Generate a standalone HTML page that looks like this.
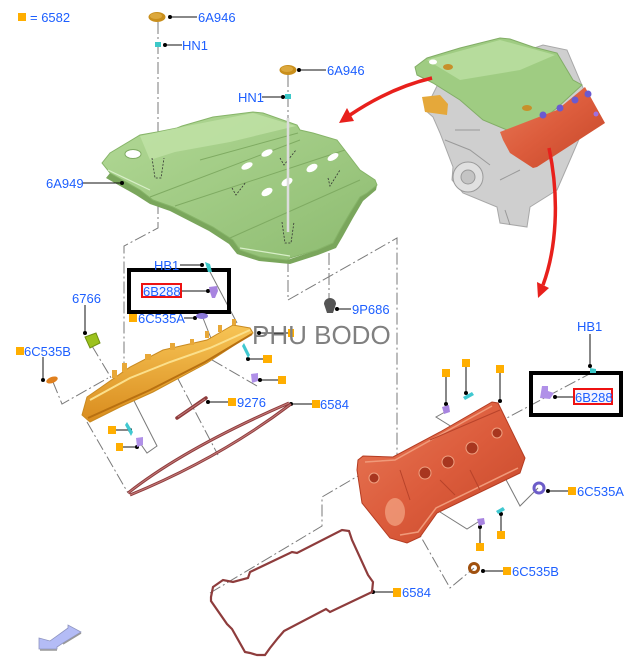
<!DOCTYPE html>
<html><head><meta charset="utf-8"><style>
html,body{margin:0;padding:0;background:#fff;}
svg{display:block}
.l{font-family:"Liberation Sans",Arial,sans-serif;font-size:13px;fill:#1d5fff}
.dd{stroke:#7a7a7a;stroke-width:1;fill:none;stroke-dasharray:12 3 2 3}
.sl{stroke:#7a7a7a;stroke-width:1;fill:none}
.ld{stroke:#111;stroke-width:1;fill:none}
.sq{fill:#ffae00}
</style></head><body>
<svg width="641" height="667" viewBox="0 0 641 667" xmlns="http://www.w3.org/2000/svg">
<defs>
<linearGradient id="gg" x1="0" y1="0" x2="1" y2="1">
<stop offset="0" stop-color="#b2d996"/><stop offset="1" stop-color="#8dbb70"/></linearGradient>
<linearGradient id="og" x1="0" y1="0" x2="0" y2="1">
<stop offset="0" stop-color="#f7c455"/><stop offset="1" stop-color="#d98c1e"/></linearGradient>
<linearGradient id="rg" x1="0" y1="0" x2="1" y2="1">
<stop offset="0" stop-color="#e87a58"/><stop offset="0.5" stop-color="#dc5c3c"/><stop offset="1" stop-color="#c44628"/></linearGradient>
</defs>

<!-- legend -->
<rect class="sq" x="18" y="13" width="8" height="8"/>
<text class="l" x="30" y="22">= 6582</text>

<!-- dash-dot construction lines -->
<path class="dd" d="M158,22 L158,228 L124,246 L124,366"/>
<path class="dd" d="M288,75 L288,118"/>
<line x1="288" y1="118" x2="288" y2="232" stroke="#d8d8d8" stroke-width="2.5"/>
<path class="dd" d="M288,240 L288,300 L397,238 L397,456"/>
<path class="dd" d="M329,173 L329,303"/>
<path class="dd" d="M87,422 L128,493"/>
<path class="dd" d="M177,377 L218,455"/>
<path class="dd" d="M53,382 L62,404 L108,378"/>
<path class="dd" d="M92,346 L113,381"/>
<path class="sl" d="M140,443 L147,453 L157,446 L127,387 L137,381"/>
<path class="dd" d="M257,386 L200,353 L208,347"/>
<path class="sl" d="M209,270 L237,323"/>
<path class="sl" d="M203,318 L214,346"/>
<path class="dd" d="M210,593 L322,526 L322,497 L358,476"/>
<path class="dd" d="M383,470 L450,588 L474,568"/>
<path class="dd" d="M593,372 L505,419"/>
<path class="sl" d="M445,412 L436,417 L452,427 L442,433"/>
<path class="sl" d="M478,522 L467,529 L440,512"/>
<path class="sl" d="M538,488 L520,506 L485,440 L474,447"/>

<!-- green engine cover 6A949 -->
<path d="M110,173 L140,190 L153,200 L173,207 L213,227 L233,240 L240,250 L260,257 L287,260 L317,250 L333,243 L340,230 L350,213 L360,197 L377,185 L376,190 L363,201 L353,218 L343,236 L336,248 L318,255 L290,264 L259,261 L237,254 L229,244 L209,231 L170,211 L150,204 L136,195 L106,178 Z" fill="#7aa65c"/>
<path d="M102,163 L110,153 L140,135 L157,132 L177,128 L182,126 L213,117 L253,112 L263,113 L297,125 L300,130 L313,133 L337,140 L347,153 L360,170 L375,180 L377,185 L367,193 L360,197 L350,213 L340,230 L333,243 L317,250 L290,258 L287,260 L260,257 L240,250 L233,240 L213,227 L173,207 L153,200 L140,190 L110,173 Z" fill="url(#gg)" stroke="#86b468" stroke-width="1"/>
<path d="M140,136 L182,127 L253,113 L296,126 L230,142 L175,152 L150,160 Z" fill="#c0e2a6" opacity="0.8"/>
<path d="M150,197 L300,140 M175,206 L345,150 M230,238 L360,180 M200,160 L298,133" stroke="#7fab62" stroke-width="1" fill="none"/>
<path d="M108,170 L150,190 M240,248 L290,256" stroke="#d8efc8" stroke-width="1.2" fill="none"/>
<ellipse cx="133" cy="154" rx="8" ry="4.5" fill="#fff" stroke="#7fab62"/>
<ellipse cx="247" cy="166" rx="6" ry="3" fill="#fff" transform="rotate(-25 247 166)"/>
<ellipse cx="267" cy="153" rx="6" ry="3" fill="#fff" transform="rotate(-25 267 153)"/>
<ellipse cx="267" cy="192" rx="6" ry="3.5" fill="#fff" transform="rotate(-30 267 192)"/>
<ellipse cx="287" cy="182" rx="6" ry="3.5" fill="#fff" transform="rotate(-30 287 182)"/>
<ellipse cx="312" cy="168" rx="6" ry="3.5" fill="#fff" transform="rotate(-30 312 168)"/>
<ellipse cx="333" cy="157" rx="6" ry="3" fill="#fff" transform="rotate(-30 333 157)"/>
<path d="M152,158 L155,178 L161,178 L164,158 M282,222 L285,243 L291,243 L294,222 M232,188 L236,195 L246,182 M280,158 L284,165 L296,150 M328,178 L330,186 L340,170" stroke="#333" stroke-width="0.8" stroke-dasharray="2 1.5" fill="none"/>
<line x1="288" y1="118" x2="288" y2="232" stroke="#dcdcdc" stroke-width="2.5"/>

<!-- top parts -->
<ellipse cx="157" cy="17" rx="8.5" ry="5" fill="#c98f1c"/>
<ellipse cx="156" cy="16" rx="6" ry="3" fill="#dca83c"/>
<ellipse cx="288" cy="70" rx="8.5" ry="5" fill="#c98f1c"/>
<ellipse cx="287" cy="69" rx="6" ry="3" fill="#dca83c"/>
<rect x="155" y="42" width="6" height="5" fill="#3cc8c8"/>
<rect x="285" y="94" width="6" height="5" fill="#3cc8c8"/>
<path class="ld" d="M170,17 H197 M165,45 H182 M299,70 H326 M262,97 H283 M82,183 H122"/>
<circle cx="170" cy="17" r="2"/><circle cx="165" cy="45" r="2"/><circle cx="299" cy="70" r="2"/><circle cx="283" cy="97" r="2"/><circle cx="122" cy="183" r="2"/>
<text class="l" x="198" y="22">6A946</text>
<text class="l" x="182" y="50">HN1</text>
<text class="l" x="327" y="75">6A946</text>
<text class="l" x="238" y="102">HN1</text>
<text class="l" x="46" y="188">6A949</text>

<!-- engine picture -->
<path d="M425,110 L433,117 L440,133 L453,167 L452,180 L463,193 L497,207 L500,223 L527,227 L530,207 L557,190 L567,167 L580,137 L587,97 L567,50 L543,45 L440,80 Z" fill="#cfcfcf" stroke="#a8a8a8"/>
<circle cx="468" cy="177" r="15" fill="#e0e0e0" stroke="#9a9a9a"/>
<circle cx="468" cy="177" r="7" fill="#c4c4c4" stroke="#9a9a9a"/>
<path d="M445,140 L470,150 L490,165 M500,180 L520,170 M505,210 L510,225 M455,130 L480,130" stroke="#9a9a9a" fill="none"/>
<path d="M422,97 L440,95 L448,104 L447,115 L425,112 Z" fill="#e5a83a"/>
<path d="M415,67 L427,58 L460,48 L500,38 L510,39 L533,47 L557,53 L573,80 L582,85 L557,108 L533,127 L507,130 L483,120 L460,100 L433,83 L417,75 Z" fill="#9fcc82" stroke="#82ad66"/>
<path d="M427,60 L500,40 L555,55 L520,70 L460,80 Z" fill="#b6dc9c"/>
<ellipse cx="448" cy="67" rx="5" ry="3" fill="#c7902a"/>
<ellipse cx="527" cy="108" rx="5" ry="3" fill="#c7902a"/>
<ellipse cx="433" cy="62" rx="4" ry="2.5" fill="#fff"/>
<path d="M500,132 L557,110 L585,87 L605,123 L537,167 L533,168 L510,153 L503,140 Z" fill="url(#rg)"/>
<circle cx="543" cy="115" r="3.5" fill="#6a5ad0"/><circle cx="560" cy="108" r="3.5" fill="#6a5ad0"/><circle cx="575" cy="100" r="3.5" fill="#6a5ad0"/><circle cx="588" cy="94" r="3.5" fill="#6a5ad0"/>
<circle cx="596" cy="114" r="2.5" fill="#a070e0"/>

<!-- red arrows -->
<path d="M432,78 Q390,88 350,115" stroke="#e8201c" stroke-width="3.5" fill="none"/>
<polygon points="339,123 354,121 347,108" fill="#e8201c"/>
<path d="M549,148 C560,200 556,250 543,285" stroke="#e8201c" stroke-width="3.5" fill="none"/>
<polygon points="538,298 549,288 537,282" fill="#e8201c"/>

<!-- left box -->
<rect x="129" y="270" width="100" height="42" fill="none" stroke="#000" stroke-width="4"/>
<path class="ld" d="M180,265 H202 M182,291 H208 M184,318 H195 M85,305 V333 M43,357 V380 M337,309 H351 M259,333 H288 M248,359 H263 M260,380 H278 M208,402 H228 M291,404 H312 M116,430 H130 M123,447 H137"/>
<circle cx="202" cy="265" r="2"/><circle cx="208" cy="291" r="2"/><circle cx="195" cy="318" r="2"/><circle cx="85" cy="333" r="2"/><circle cx="43" cy="380" r="2"/><circle cx="337" cy="309" r="2"/><circle cx="259" cy="333" r="2"/><circle cx="248" cy="359" r="2"/><circle cx="260" cy="380" r="2"/><circle cx="208" cy="402" r="2"/><circle cx="291" cy="404" r="2"/><circle cx="130" cy="430" r="2"/><circle cx="137" cy="447" r="2"/>
<path d="M205,262 L210,264 L212,272 L208,272 Z" fill="#3cc8c8"/>
<path d="M209,287 L217,286 L218,291 L215,298 L212,298 L210,292 Z" fill="#a884e0"/>
<ellipse cx="202" cy="316" rx="6" ry="3" fill="#8a78d8"/>
<rect x="142" y="284" width="39" height="13" fill="#f4f4ff" stroke="#ee1111" stroke-width="2"/>
<text class="l" x="143" y="296">6B288</text>
<text class="l" x="154" y="270">HB1</text>
<rect class="sq" x="129" y="314" width="8" height="8"/>
<text class="l" x="138" y="323">6C535A</text>
<text class="l" x="72" y="303">6766</text>
<rect class="sq" x="16" y="347" width="8" height="8"/>
<text class="l" x="24" y="356">6C535B</text>
<path d="M85,337 L96,333 L100,343 L90,348 Z" fill="#9cc21e" stroke="#6f9010"/>
<ellipse cx="52" cy="380" rx="6" ry="3" fill="#e0801e" transform="rotate(-20 52 380)"/>
<path d="M324,304 A6,6 0 0 1 336,304 L333,313 L327,313 Z" fill="#555"/>
<text class="l" x="352" y="314">9P686</text>

<!-- left orange cam cover -->
<path d="M82,415 L87,397 L100,388 L130,367 L163,350 L207,340 L233,325 L250,328 L253,333 L207,363 L153,392 L120,407 L90,422 Z" fill="url(#og)" stroke="#c98a20"/>
<path d="M90,400 L130,378 L170,362 L210,348 L250,330" stroke="#fbe08c" stroke-width="2" fill="none"/>
<path d="M88,418 L150,390 L205,362 L252,334" stroke="#b87010" stroke-width="2" fill="none"/>
<path d="M112,378 h5 v-8 h-5z M122,372 h5 v-9 h-5z M145,360 h6 v-6 h-6z M170,350 h5 v-7 h-5z M190,345 h4 v-6 h-4z M205,338 h4 v-7 h-4z M218,332 h4 v-7 h-4z M232,325 h4 v-6 h-4z" fill="#e8a838"/>
<path d="M244,343 L250,355 L248,358 L242,346 Z" fill="#40c8d0"/>
<path d="M251,374 L258,373 L258,381 L252,383 Z" fill="#b090e8"/>
<path d="M127,422 L133,432 L131,436 L125,425 Z" fill="#40c8d0"/>
<path d="M136,438 L143,437 L143,445 L137,447 Z" fill="#b090e8"/>
<rect class="sq" x="263" y="355" width="9" height="8"/>
<rect class="sq" x="278" y="376" width="8" height="8"/>
<rect class="sq" x="108" y="426" width="8" height="8"/>
<rect class="sq" x="116" y="443" width="7" height="8"/>

<!-- watermark -->
<rect class="sq" x="288" y="329" width="6" height="8"/>
<text x="252" y="344" font-family="Liberation Sans,Arial,sans-serif" font-size="26" fill="#808080">PHU BODO</text>

<!-- 9276 & 6584 gaskets left -->
<path d="M177,418 L206,398" stroke="#8e3c3c" stroke-width="3.5" stroke-linecap="round"/>
<path d="M178,417 L205,399" stroke="#c47a7a" stroke-width="1"/>
<rect class="sq" x="228" y="398" width="8" height="8"/>
<text class="l" x="237" y="407">9276</text>
<path d="M128,493 Q185,448 289,403 M130,495 Q220,458 291,404" stroke="#8e3c3c" stroke-width="3" fill="none"/>
<path d="M128,493 Q185,448 289,403 M130,495 Q220,458 291,404" stroke="#c47a7a" stroke-width="1" fill="none"/>
<rect class="sq" x="312" y="400" width="8" height="8"/>
<text class="l" x="320" y="409">6584</text>

<!-- right box -->
<rect x="531" y="373" width="90" height="42" fill="none" stroke="#000" stroke-width="4"/>
<path class="ld" d="M590,334 V366 M555,397 H573 M446,377 V404 M466,367 V393 M500,373 V401 M548,491 H568 M480,527 V543 M501,514 V531 M483,571 H503 M373,592 H393"/>
<circle cx="590" cy="366" r="2"/><circle cx="555" cy="397" r="2"/><circle cx="446" cy="404" r="2"/><circle cx="466" cy="393" r="2"/><circle cx="500" cy="401" r="2"/><circle cx="548" cy="491" r="2"/><circle cx="480" cy="527" r="2"/><circle cx="501" cy="514" r="2"/><circle cx="483" cy="571" r="2"/><circle cx="373" cy="592" r="2"/>
<text class="l" x="577" y="331">HB1</text>
<path d="M590,368 L596,369 L596,373 L590,373 Z" fill="#3cc8c8"/>
<path d="M542,386 L548,386 L548,391 L554,393 L550,399 L540,398 Z" fill="#b090e8"/>
<rect x="574" y="389" width="38" height="15" fill="#f4f4ff" stroke="#ee1111" stroke-width="2"/>
<text class="l" x="575" y="402">6B288</text>

<!-- right orange cam cover -->
<path d="M358,460 L363,456 L393,457 L440,432 L492,402 L498,403 L525,458 L520,473 L437,513 L420,537 L407,543 L390,538 L362,503 L357,470 Z" fill="url(#rg)" stroke="#b43c22"/>
<path d="M365,462 L395,460 L492,406 M400,535 L418,532 L436,508 L518,468" stroke="#f09a7a" stroke-width="1.5" fill="none"/>
<ellipse cx="395" cy="512" rx="10" ry="14" fill="#f3a686" opacity="0.7"/>
<circle cx="374" cy="478" r="5" fill="#a8361f" stroke="#f0a080"/>
<circle cx="425" cy="473" r="6" fill="#a8361f" stroke="#f0a080"/>
<circle cx="448" cy="462" r="6" fill="#a8361f" stroke="#f0a080"/>
<circle cx="472" cy="448" r="6" fill="#a8361f" stroke="#f0a080"/>
<circle cx="497" cy="433" r="5" fill="#a8361f" stroke="#f0a080"/>
<path d="M400,470 L410,500 M440,480 L455,495 M470,470 L480,490 M430,440 L500,410" stroke="#b8432a" fill="none"/>
<path d="M442,407 L449,405 L450,412 L444,414 Z" fill="#a884e0"/>
<path d="M463,397 L472,392 L474,395 L465,400 Z" fill="#40c8d0"/>
<rect class="sq" x="442" y="369" width="8" height="8"/>
<rect class="sq" x="462" y="359" width="8" height="8"/>
<rect class="sq" x="496" y="365" width="8" height="8"/>
<circle cx="539" cy="488" r="5" fill="none" stroke="#6c5cc8" stroke-width="3"/>
<rect class="sq" x="568" y="487" width="8" height="8"/>
<text class="l" x="577" y="496">6C535A</text>
<path d="M477,519 L484,518 L485,524 L479,526 Z" fill="#a884e0"/>
<path d="M496,511 L503,507 L505,510 L498,514 Z" fill="#40c8d0"/>
<rect class="sq" x="476" y="543" width="8" height="8"/>
<rect class="sq" x="497" y="531" width="8" height="8"/>
<circle cx="474" cy="568" r="4.5" fill="none" stroke="#a0500e" stroke-width="3"/>
<rect class="sq" x="503" y="567" width="8" height="8"/>
<text class="l" x="512" y="576">6C535B</text>

<!-- right gasket 6584 -->
<path d="M211,597 L213,587 L223,580 L233,582 L248,578 L250,572 L292,552 L297,553 L342,530 L349,531 L352,540 L368,575 L373,582 L372,592 L330,612 L326,609 L284,631 L278,638 L270,648 L265,655 L257,655 L250,653 L245,652 L232,629 L227,624 L211,601 Z" fill="none" stroke="#8e3c3c" stroke-width="2.2"/>
<rect class="sq" x="393" y="588" width="8" height="9"/>
<text class="l" x="402" y="597">6584</text>

<!-- bottom-left arrow -->
<polygon points="39,649 39,638 50,641 68,628 68,625 81,632 63,643 57,647 57,649" fill="#b4bcf6" stroke="#8f95c0" stroke-width="0.8"/>
<path d="M40,650 L57,650 M63,644 L81,633" stroke="#999" stroke-width="1.5"/>
</svg>
</body></html>
